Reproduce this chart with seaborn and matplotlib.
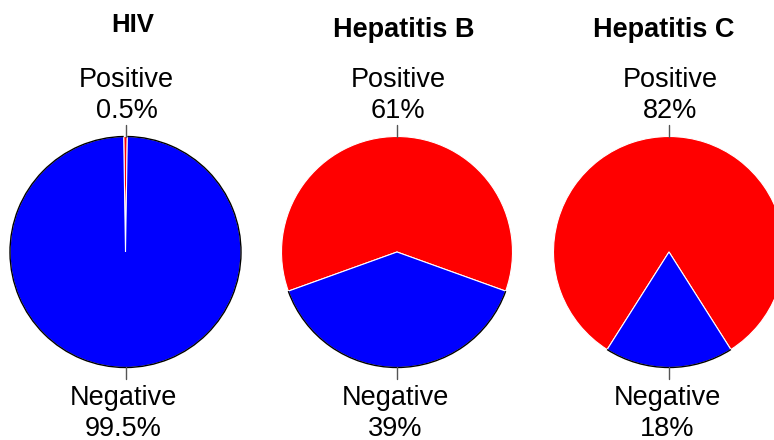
import matplotlib
matplotlib.use("Agg")
import matplotlib.pyplot as plt
from matplotlib.patches import Arc
import seaborn as sns

# ________________ data ________________
tests = ["HIV", "Hepatitis B", "Hepatitis C"]
positive = [0.5, 61, 82]
negative = [99.5, 39, 18]
pos_labels = ["0.5%", "61%", "82%"]
neg_labels = ["99.5%", "39%", "18%"]

# ________________ layout (pixels, y from top) ________________
W, H = 774, 440
centers_x = [125.5, 397, 669]
center_y = 252
radius = 115.5
title_x = [132.5, 404, 664]
title_base = [31.5, 36.5, 36.5]
title_size = [18.5, 19.5, 19.5]

sns.set_theme(style="white")
plt.rcParams['font.family'] = ['Liberation Sans', 'DejaVu Sans']
plt.rcParams['text.color'] = 'black'

fig = plt.figure(figsize=(W / 100, H / 100), dpi=100)
ax = fig.add_axes([0, 0, 1, 1])


def yy(py):
    return H - py


for i, name in enumerate(tests):
    cx, cy = centers_x[i], yy(center_y)
    p = positive[i]
    start = 90 - p * 1.8

    ax.pie([positive[i], negative[i]], colors=["#FF0000", "#0000FF"],
           startangle=start, counterclock=True, center=(cx, cy),
           radius=radius, frame=True,
           wedgeprops=dict(edgecolor="white", linewidth=0.8))

    # black outline only on the negative slice
    ax.add_patch(Arc((cx, cy), 2 * radius, 2 * radius,
                     theta1=90 + p * 1.8, theta2=450 - p * 1.8,
                     color="black", linewidth=1.0))

    # tick marks
    ax.plot([cx, cx], [cy + radius, cy + radius + 12], color="#555555", lw=1)
    ax.plot([cx, cx], [cy - radius, cy - radius - 12], color="#555555", lw=1)

    # labels
    ax.text(cx + 1, yy(87.3), "Positive", ha="center", va="baseline", fontsize=19.5, color="black")
    ax.text(cx + 1, yy(117.5), pos_labels[i], ha="center", va="baseline", fontsize=19.5, color="black")
    ax.text(cx - 2, yy(405), "Negative", ha="center", va="baseline", fontsize=19.5, color="black")
    ax.text(cx - 2, yy(435.5), neg_labels[i], ha="center", va="baseline", fontsize=19.5, color="black")

    ax.text(title_x[i], yy(title_base[i]), name, ha="center", va="baseline",
            fontsize=title_size[i], fontweight="bold", color="black")

ax.set_xlim(0, W)
ax.set_ylim(0, H)
ax.set_aspect("equal")
ax.axis("off")

fig.savefig("out.png", dpi=100, facecolor="white")
